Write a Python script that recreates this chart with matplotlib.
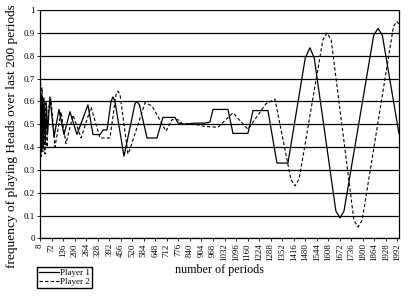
import matplotlib
matplotlib.use("Agg")
import matplotlib.pyplot as plt

# frequency of playing Heads over the last 200 periods
p1_periods = [8, 12, 16, 21, 26, 31, 37, 44, 50, 63, 86, 113, 141, 174, 213,
              274, 302, 341, 358, 380, 402, 413, 424, 474, 535, 546, 560, 602,
              657, 690, 757, 774, 813, 868, 924, 951, 968, 1051, 1079, 1162,
              1190, 1273, 1323, 1384, 1480, 1506, 1530, 1650, 1673, 1695, 1860,
              1884, 1908, 2000]
p1_values = [0.50, 0.63, 0.38, 0.62, 0.40, 0.60, 0.41, 0.58, 0.46, 0.62, 0.445,
             0.565, 0.455, 0.555, 0.455, 0.585, 0.455, 0.455, 0.475, 0.475,
             0.60, 0.62, 0.60, 0.36, 0.59, 0.60, 0.585, 0.44, 0.44, 0.53, 0.53,
             0.505, 0.50, 0.505, 0.505, 0.51, 0.565, 0.565, 0.46, 0.46, 0.56,
             0.56, 0.33, 0.33, 0.79, 0.835, 0.79, 0.12, 0.09, 0.12, 0.89, 0.92,
             0.89, 0.46]

p2_periods = [8, 11, 15, 19, 24, 29, 35, 41, 47, 55, 69, 91, 124, 152, 191,
              236, 291, 341, 396, 430, 441, 452, 496, 507, 591, 630, 707, 740,
              774, 802, 840, 896, 924, 996, 1079, 1162, 1262, 1312, 1400, 1423,
              1446, 1578, 1601, 1624, 1750, 1773, 1796, 1970, 1989, 2000]
p2_values = [0.45, 0.70, 0.36, 0.66, 0.38, 0.62, 0.37, 0.60, 0.40, 0.57, 0.61,
             0.40, 0.555, 0.415, 0.54, 0.44, 0.575, 0.44, 0.44, 0.63, 0.645,
             0.63, 0.37, 0.39, 0.595, 0.58, 0.47, 0.52, 0.52, 0.50, 0.505,
             0.495, 0.49, 0.487, 0.55, 0.478, 0.59, 0.61, 0.26, 0.23, 0.26,
             0.87, 0.90, 0.87, 0.08, 0.05, 0.08, 0.93, 0.95, 0.94]

xticks = list(range(8, 2000, 64))
yticks = [0, 0.1, 0.2, 0.3, 0.4, 0.5, 0.6, 0.7, 0.8, 0.9, 1]
ytick_labels = ['0', '0.1', '0.2', '0.3', '0.4', '0.5', '0.6', '0.7', '0.8', '0.9', '1']

plt.rcParams['font.family'] = ['Liberation Serif', 'DejaVu Serif']

fig = plt.figure(figsize=(4.10, 2.98), dpi=100)
ax = fig.add_axes([0.0976, 0.2, 0.8754, 0.766])

for y in yticks:
    ax.axhline(y, color='black', lw=0.9, zorder=1)

ax.plot(p1_periods, p1_values, color='black', lw=0.9, label='Player 1', zorder=3)
ax.plot(p2_periods, p2_values, color='black', lw=0.8, ls=(0, (3, 2)),
        label='Player 2', zorder=3)

ax.set_xlim(8, 2000)
ax.set_ylim(0, 1)
ax.set_xticks(xticks)
ax.set_xticklabels([str(t) for t in xticks], rotation=90, fontsize=6.3)
ax.set_yticks(yticks)
ax.set_yticklabels(ytick_labels, fontsize=6.5)
ax.tick_params(axis='both', length=2, width=0.6, pad=1.5)

for s in ['left', 'right', 'bottom']:
    ax.spines[s].set_linewidth(0.9)
ax.spines['top'].set_visible(False)

ax.set_xlabel('number of periods', fontsize=8.7, labelpad=2)
ax.set_ylabel('frequency of playing Heads over last 200 periods', fontsize=9.6)
ax.yaxis.set_label_coords(-0.062, 0.448)

fig.legend(loc='lower left', bbox_to_anchor=(0.09, 0.034), fontsize=6.5,
           frameon=True, fancybox=False, edgecolor='black', framealpha=1,
           handlelength=2.2, handletextpad=0.2, borderpad=0.2, labelspacing=0.1,
           borderaxespad=0)

fig.savefig('out.png', dpi=100)
